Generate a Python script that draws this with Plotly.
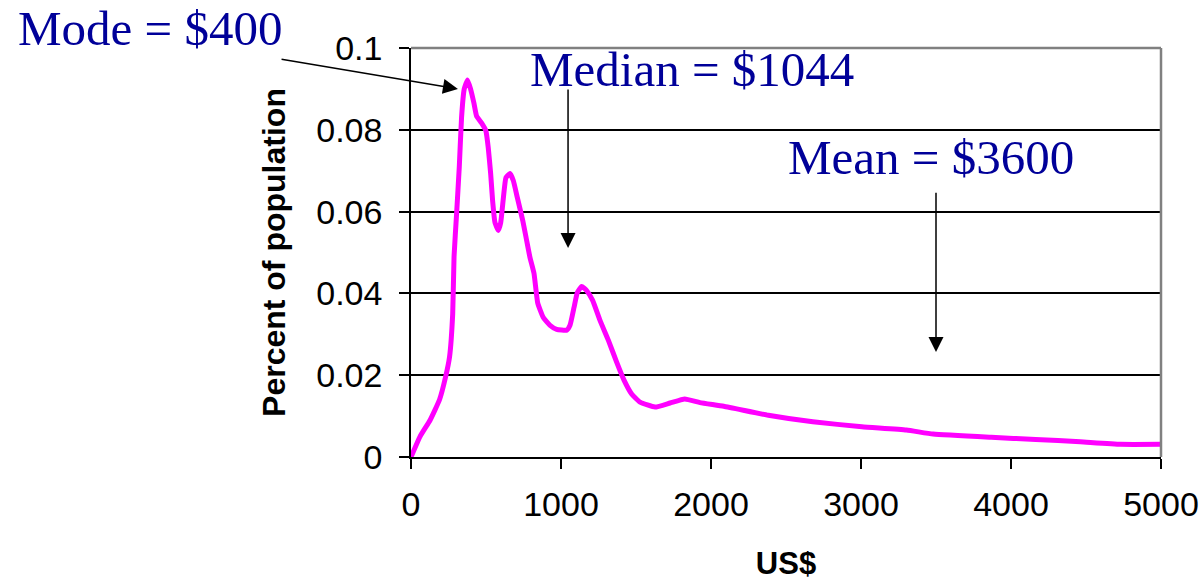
import plotly.graph_objects as go

# Income (US$) vs share of population
income = [0, 60, 127, 190, 230, 257, 278, 287, 304, 322, 337, 355, 377, 397, 419, 437,
          470, 499, 515, 531, 544, 560, 582, 598, 616, 633, 660, 682, 709, 745, 767,
          793, 820, 845, 882, 927, 971, 1038, 1060, 1087, 1109, 1138, 1171, 1211, 1260,
          1316, 1371, 1420, 1471, 1527, 1627, 1727, 1825, 1927, 2085, 2382, 2679, 3006,
          3303, 3481, 3868, 4165, 4462, 4730, 5000]
share = [0.0, 0.005, 0.009, 0.014, 0.0195, 0.0245, 0.035, 0.049, 0.0595, 0.071, 0.083,
         0.090, 0.0922, 0.090, 0.0866, 0.0834, 0.0817, 0.0798, 0.0756, 0.0693, 0.0627,
         0.0573, 0.0554, 0.0573, 0.0634, 0.0683, 0.0693, 0.0676, 0.0634, 0.0578, 0.0537,
         0.0488, 0.0449, 0.0376, 0.0341, 0.0322, 0.0312, 0.031, 0.0322, 0.0366, 0.0402,
         0.0417, 0.0407, 0.0383, 0.0334, 0.0285, 0.0232, 0.0188, 0.0154, 0.0134, 0.0122,
         0.0132, 0.0142, 0.0133, 0.0124, 0.0102, 0.0086, 0.0074, 0.0066, 0.0056, 0.0048,
         0.0043, 0.0037, 0.0031, 0.0031]

x_ticks = [0, 1000, 2000, 3000, 4000, 5000]
y_ticks = [0, 0.02, 0.04, 0.06, 0.08, 0.1]

labels = ["Mode = $400", "Median = $1044", "Mean = $3600"]

SERIF = "Liberation Serif, Times New Roman, serif"
SANS = "Liberation Sans, Arial, sans-serif"
NAVY = "#000099"

fig = go.Figure()
fig.add_trace(go.Scatter(x=income, y=share, mode="lines",
                         line=dict(color="#FF00FF", width=5, shape="spline", smoothing=0.4),
                         hoverinfo="skip", showlegend=False))

fig.update_layout(
    width=1201, height=581,
    margin=dict(l=411, r=40, t=48, b=124, autoexpand=False),
    paper_bgcolor="white", plot_bgcolor="white",
    font=dict(family=SANS, color="black", size=34),
    xaxis=dict(range=[0, 5000], tickvals=x_ticks, showgrid=False, zeroline=False,
               showline=True, linecolor="black", linewidth=1.5, automargin=False,
               ticks="outside", ticklen=10, tickcolor="black", tickwidth=1.5,
               ticklabelstandoff=6,
               tickfont=dict(size=34, family=SANS),
               title=dict(text="<b>US$</b>", font=dict(size=31, family=SANS), standoff=39)),
    yaxis=dict(range=[0, 0.1], tickvals=y_ticks, showgrid=True, gridcolor="black", gridwidth=1.6,
               zeroline=False, showline=True, linecolor="black", linewidth=1.5, automargin=False,
               ticks="outside", ticklen=10, tickcolor="black", tickwidth=1.5,
               ticklabelstandoff=10,
               tickfont=dict(size=34, family=SANS),
               title=dict(text="<b>Percent of population</b>", font=dict(size=32, family=SANS),
                          standoff=21)),
    shapes=[
        dict(type="line", xref="paper", yref="paper", x0=0, x1=1, y0=1, y1=1,
             line=dict(color="#808080", width=2.5), layer="above"),
        dict(type="line", xref="paper", yref="paper", x0=1, x1=1, y0=0, y1=1,
             line=dict(color="#808080", width=2.5), layer="above"),
    ],
)

# Text labels
fig.add_annotation(x=-0.348, y=1.047, xref="paper", yref="paper", text=labels[0], showarrow=False,
                   font=dict(family=SERIF, size=49, color=NAVY), xanchor="center", yanchor="middle")
fig.add_annotation(x=1870, y=0.0947, xref="x", yref="y", text=labels[1], showarrow=False,
                   font=dict(family=SERIF, size=49, color=NAVY), xanchor="center", yanchor="middle")
fig.add_annotation(x=3465, y=0.0733, xref="x", yref="y", text=labels[2], showarrow=False,
                   font=dict(family=SERIF, size=49, color=NAVY), xanchor="center", yanchor="middle")

# Arrows
arrow = dict(showarrow=True, arrowhead=2, arrowsize=2, arrowwidth=1.5, arrowcolor="black",
             xref="x", yref="y", axref="x", ayref="y", text="")
fig.add_annotation(x=313, y=0.0900, ax=-873, ay=0.0973, **arrow)
fig.add_annotation(x=1047, y=0.0511, ax=1047, ay=0.0902, **arrow)
fig.add_annotation(x=3500, y=0.0257, ax=3500, ay=0.0650, **arrow)

fig.write_html("out.html", config={"displayModeBar": False},
               post_script="document.body.style.margin='0';")
